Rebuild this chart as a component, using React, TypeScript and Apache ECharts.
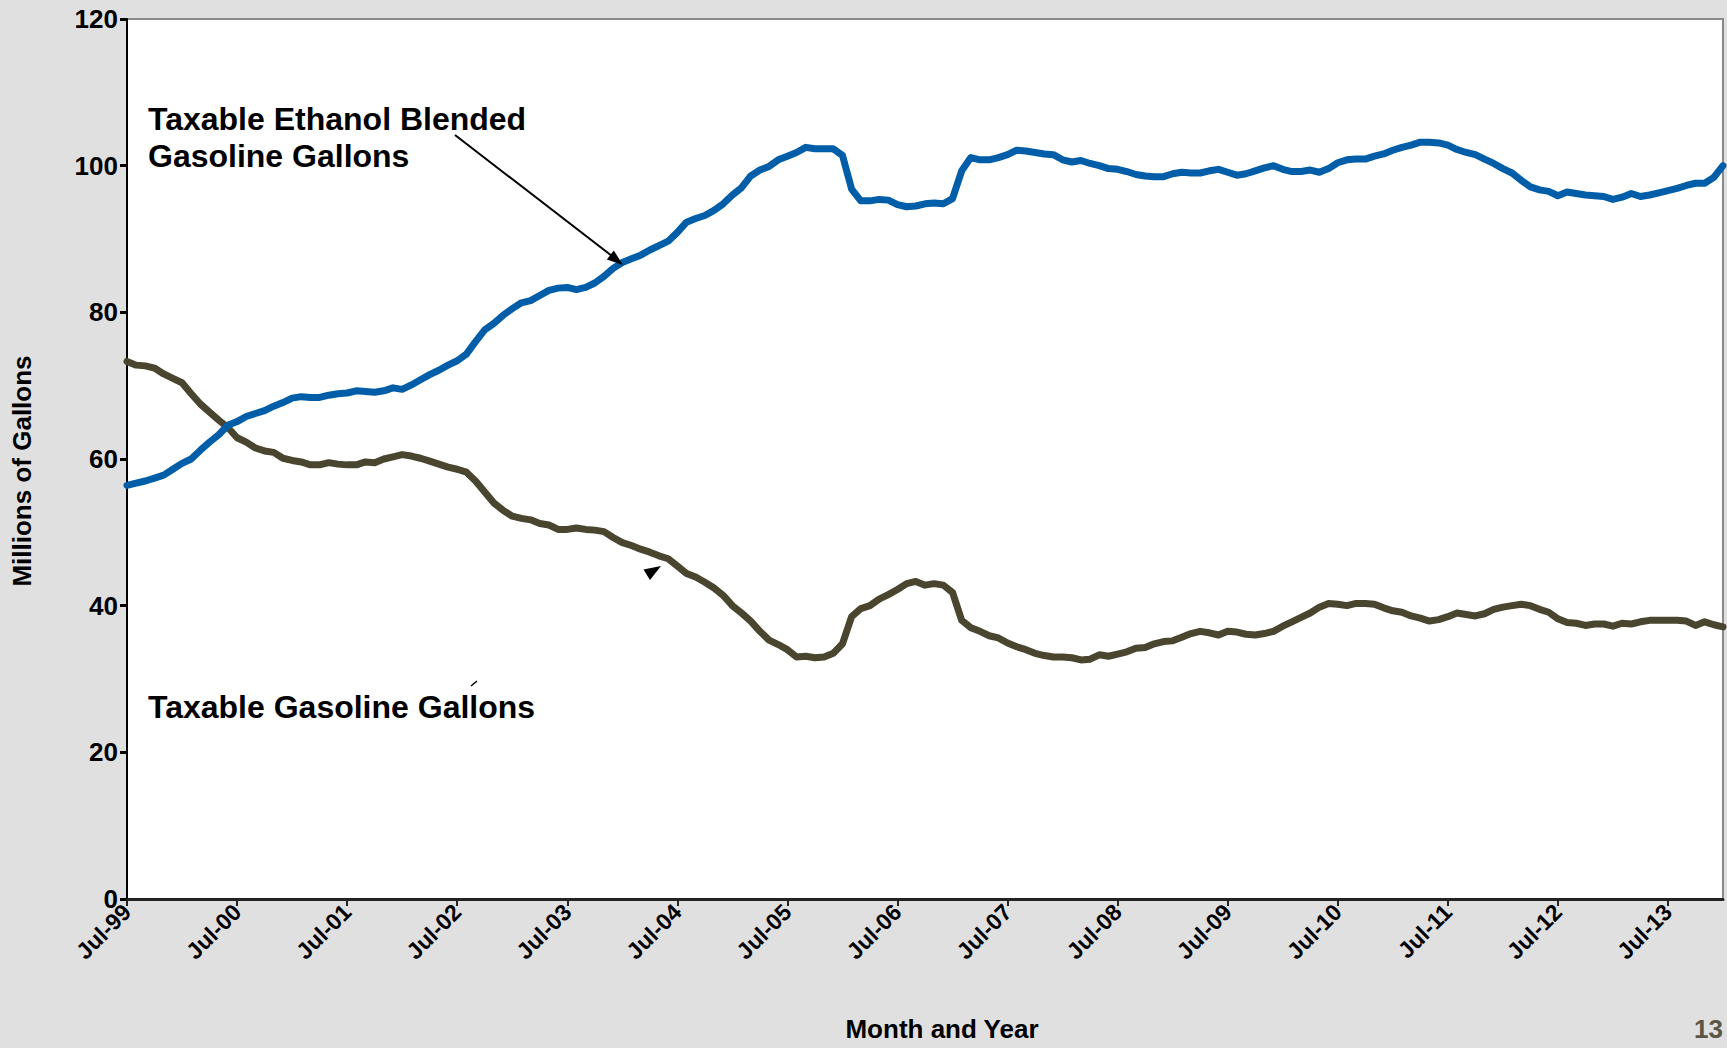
import React, { useEffect, useRef } from "react";
import * as echarts from "echarts";

const MONTH_NAMES = ["Jan", "Feb", "Mar", "Apr", "May", "Jun", "Jul", "Aug", "Sep", "Oct", "Nov", "Dec"];
const START_MONTH = 6; // July
const START_YEAR = 1999;
const MONTH_COUNT = 175; // Jul-99 .. Jan-14

const categories: string[] = [];
for (let i = 0; i < MONTH_COUNT; i++) {
  const m = (START_MONTH + i) % 12;
  const y = (START_YEAR + Math.floor((START_MONTH + i) / 12)) % 100;
  categories.push(`${MONTH_NAMES[m]}-${String(y).padStart(2, "0")}`);
}

const yTicks = [0, 20, 40, 60, 80, 100, 120];

// Millions of gallons, monthly
const ethanolBlended = [
  56.4, 56.7, 57.0, 57.4, 57.8, 58.6, 59.4, 60.0, 61.2, 62.3, 63.3, 64.6,
  65.1, 65.8, 66.2, 66.6, 67.2, 67.7, 68.3, 68.5, 68.4, 68.4, 68.7, 68.9,
  69.0, 69.3, 69.2, 69.1, 69.3, 69.7, 69.5, 70.1, 70.8, 71.5, 72.1, 72.8,
  73.4, 74.3, 76.0, 77.6, 78.5, 79.6, 80.5, 81.3, 81.6, 82.3, 83.0, 83.3,
  83.4, 83.1, 83.4, 84.0, 84.9, 86.0, 86.8, 87.3, 87.8, 88.5, 89.1, 89.7,
  90.9, 92.3, 92.8, 93.2, 93.9, 94.8, 96.0, 97.0, 98.6, 99.4, 99.9, 100.8,
  101.3, 101.8, 102.5, 102.3, 102.3, 102.3, 101.4, 96.8, 95.2, 95.2, 95.4, 95.3,
  94.7, 94.4, 94.5, 94.8, 94.9, 94.8, 95.5, 99.3, 101.1, 100.8, 100.8, 101.1,
  101.5, 102.1, 102.0, 101.8, 101.6, 101.5, 100.8, 100.5, 100.7, 100.3, 100.0, 99.6,
  99.5, 99.2, 98.8, 98.6, 98.5, 98.5, 98.9, 99.1, 99.0, 99.0, 99.3, 99.5,
  99.1, 98.7, 98.9, 99.3, 99.7, 100.0, 99.5, 99.2, 99.2, 99.4, 99.1, 99.6,
  100.4, 100.8, 100.9, 100.9, 101.3, 101.6, 102.1, 102.5, 102.8, 103.2, 103.2, 103.1,
  102.8, 102.2, 101.8, 101.5, 100.9, 100.3, 99.6, 99.0, 98.0, 97.1, 96.7, 96.5,
  95.9, 96.4, 96.2, 96.0, 95.9, 95.8, 95.4, 95.7, 96.2, 95.8, 96.0, 96.3,
  96.6, 96.9, 97.3, 97.6, 97.6, 98.4, 100.0,
];

const gasoline = [
  73.3, 72.8, 72.7, 72.4, 71.6, 71.0, 70.4, 68.9, 67.5, 66.4, 65.3, 64.3,
  62.9, 62.3, 61.5, 61.1, 60.9, 60.1, 59.8, 59.6, 59.2, 59.2, 59.5, 59.3,
  59.2, 59.2, 59.6, 59.5, 60.0, 60.3, 60.6, 60.4, 60.1, 59.7, 59.3, 58.9,
  58.6, 58.2, 57.0, 55.5, 54.0, 53.0, 52.2, 51.9, 51.7, 51.2, 51.0, 50.4,
  50.4, 50.6, 50.4, 50.3, 50.1, 49.3, 48.6, 48.2, 47.7, 47.3, 46.8, 46.4,
  45.4, 44.4, 43.9, 43.2, 42.4, 41.4, 40.0, 39.0, 37.9, 36.5, 35.3, 34.7,
  34.0, 33.0, 33.1, 32.9, 33.0, 33.5, 34.8, 38.5, 39.6, 40.0, 40.9, 41.5,
  42.2, 43.0, 43.3, 42.8, 43.0, 42.8, 41.8, 38.0, 37.0, 36.5, 35.9, 35.6,
  34.9, 34.4, 34.0, 33.5, 33.2, 33.0, 33.0, 32.9, 32.6, 32.7, 33.3, 33.1,
  33.4, 33.7, 34.2, 34.3, 34.8, 35.1, 35.2, 35.7, 36.2, 36.5, 36.3, 36.0,
  36.5, 36.4, 36.1, 36.0, 36.2, 36.5, 37.2, 37.8, 38.4, 39.0, 39.8, 40.3,
  40.2, 40.0, 40.3, 40.3, 40.2, 39.7, 39.3, 39.1, 38.6, 38.3, 37.9, 38.1,
  38.5, 39.0, 38.8, 38.6, 38.9, 39.5, 39.8, 40.0, 40.2, 40.0, 39.5, 39.1,
  38.2, 37.7, 37.6, 37.3, 37.5, 37.5, 37.2, 37.6, 37.5, 37.8, 38.0, 38.0,
  38.0, 38.0, 37.9, 37.3, 37.8, 37.4, 37.1,
];

const FONT = "'Liberation Sans', Arial, sans-serif";

export default function App() {
  const ref = useRef<HTMLDivElement>(null);

  useEffect(() => {
    if (!ref.current) return;
    const chart = echarts.init(ref.current, undefined, { renderer: "svg" });
    chart.setOption({
      animation: false,
      backgroundColor: "#e0e0e0",
      textStyle: { fontFamily: FONT },
      grid: {
        left: 127,
        right: 4,
        top: 19,
        bottom: 149,
        show: true,
        backgroundColor: "#ffffff",
        borderColor: "#8a8a8a",
        borderWidth: 2,
      },
      xAxis: {
        type: "category",
        data: categories,
        boundaryGap: false,
        axisLine: { show: true, lineStyle: { color: "#222", width: 3 } },
        axisTick: { show: true, interval: 11, length: 7, lineStyle: { color: "#222", width: 2 } },
        axisLabel: {
          interval: 11,
          rotate: 45,
          margin: 9,
          color: "#000",
          fontFamily: FONT,
          fontWeight: "bold",
          fontSize: 23,
        },
        splitLine: { show: false },
      },
      yAxis: {
        type: "value",
        min: yTicks[0],
        max: yTicks[yTicks.length - 1],
        interval: 20,
        axisLine: { show: true, lineStyle: { color: "#000", width: 2 } },
        axisTick: { show: true, length: 7, lineStyle: { color: "#000", width: 3 } },
        axisLabel: {
          margin: 9,
          color: "#000",
          fontFamily: FONT,
          fontWeight: "bold",
          fontSize: 26,
        },
        splitLine: { show: false },
      },
      series: [
        {
          name: "Taxable Ethanol Blended Gasoline Gallons",
          type: "line",
          data: ethanolBlended,
          showSymbol: false,
          lineStyle: { color: "#005ea8", width: 7, join: "round", cap: "round" },
          itemStyle: { color: "#005ea8" },
          z: 3,
        },
        {
          name: "Taxable Gasoline Gallons",
          type: "line",
          data: gasoline,
          showSymbol: false,
          lineStyle: { color: "#4a452e", width: 7, join: "round", cap: "round" },
          itemStyle: { color: "#4a452e" },
          z: 2,
        },
      ],
      graphic: [
        {
          type: "text",
          left: 148,
          top: 100,
          z: 10,
          style: {
            text: "Taxable Ethanol Blended\nGasoline Gallons",
            fontFamily: FONT,
            fontWeight: "bold",
            fontSize: 32,
            lineHeight: 37,
            fill: "#000",
          },
        },
        {
          type: "line",
          z: 10,
          shape: { x1: 455, y1: 135, x2: 612, y2: 256 },
          style: { stroke: "#000", lineWidth: 2 },
        },
        {
          type: "polygon",
          z: 10,
          shape: { points: [[623, 265], [606.8, 259.6], [613.8, 250.6]] },
          style: { fill: "#000" },
        },
        {
          type: "text",
          left: 148,
          top: 691,
          z: 10,
          style: {
            text: "Taxable Gasoline Gallons",
            fontFamily: FONT,
            fontWeight: "bold",
            fontSize: 32,
            fill: "#000",
          },
        },
        {
          type: "line",
          z: 10,
          shape: { x1: 471, y1: 686, x2: 477, y2: 681 },
          style: { stroke: "#000", lineWidth: 1.5 },
        },
        {
          type: "polygon",
          z: 10,
          shape: { points: [[661, 566], [650, 580], [643.5, 569.5]] },
          style: { fill: "#000" },
        },
        {
          type: "text",
          x: 22,
          y: 471,
          rotation: Math.PI / 2,
          z: 10,
          style: {
            text: "Millions of Gallons",
            fontFamily: FONT,
            fontWeight: "bold",
            fontSize: 26,
            fill: "#000",
            align: "center",
            verticalAlign: "middle",
          },
        },
        {
          type: "text",
          x: 942,
          y: 1016,
          z: 10,
          style: {
            text: "Month and Year",
            fontFamily: FONT,
            fontWeight: "bold",
            fontSize: 26,
            fill: "#000",
            align: "center",
            verticalAlign: "top",
          },
        },
        {
          type: "text",
          x: 1694,
          y: 1016,
          z: 10,
          style: {
            text: "13",
            fontFamily: FONT,
            fontWeight: "bold",
            fontSize: 26,
            fill: "#5b5545",
            align: "left",
            verticalAlign: "top",
          },
        },
      ],
    });
    return () => chart.dispose();
  }, []);

  return (
    <div
      ref={ref}
      style={{ position: "absolute", left: 0, top: 0, width: 1727, height: 1048, overflow: "hidden" }}
    />
  );
}
